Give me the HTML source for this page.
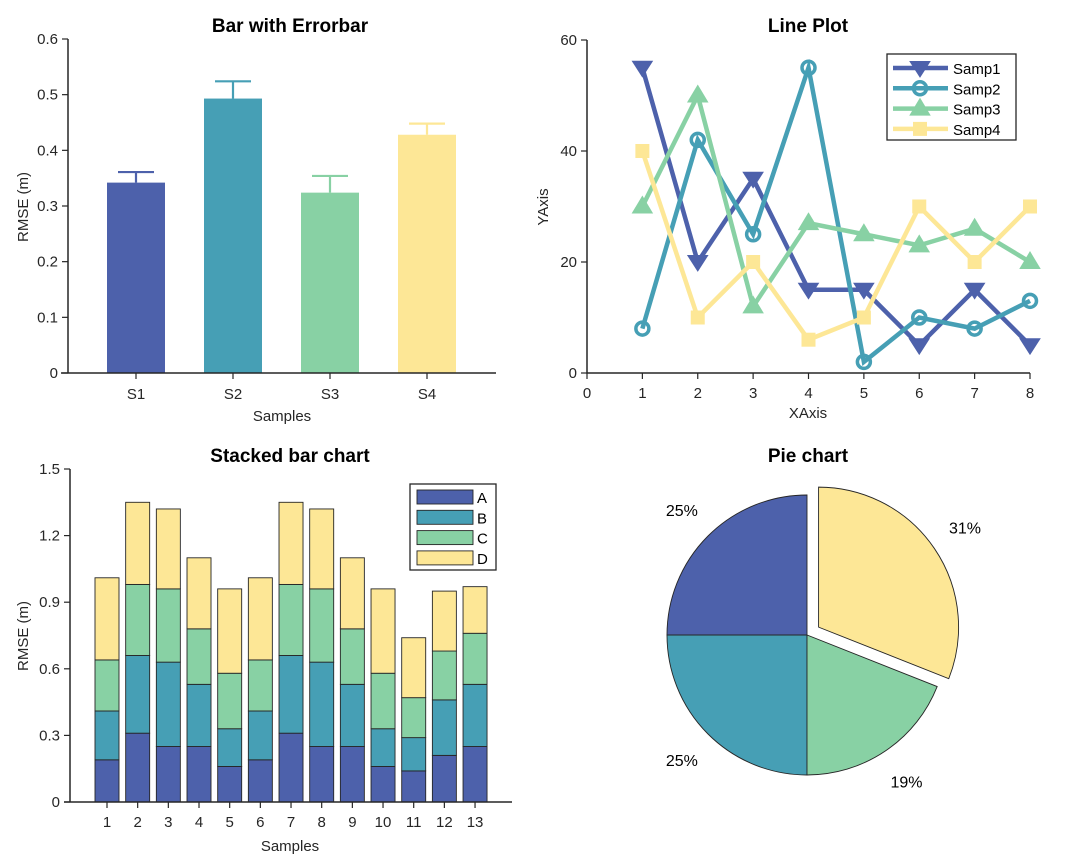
<!DOCTYPE html>
<html><head><meta charset="utf-8"><style>
html,body{margin:0;padding:0;background:#fff;}
svg{display:block;font-family:"Liberation Sans",Arial,sans-serif;}
</style></head><body>
<svg id="c" width="1080" height="864" viewBox="0 0 1080 864"></svg>
<script>
// ---- data ----
const barCats=["S1","S2","S3","S4"];
const barVals=[0.342,0.493,0.324,0.428];
const barErr=[0.019,0.031,0.030,0.020];
const barYTicks=[0,0.1,0.2,0.3,0.4,0.5,0.6];

const lineX=[1,2,3,4,5,6,7,8];
const samp1=[55,20,35,15,15,5,15,5];
const samp2=[8,42,25,55,2,10,8,13];
const samp3=[30,50,12,27,25,23,26,20];
const samp4=[40,10,20,6,10,30,20,30];
const lineXTicks=[0,1,2,3,4,5,6,7,8];
const lineYTicks=[0,20,40,60];

const stackCats=[1,2,3,4,5,6,7,8,9,10,11,12,13];
const stackA=[0.19,0.31,0.25,0.25,0.16,0.19,0.31,0.25,0.25,0.16,0.14,0.21,0.25];
const stackB=[0.22,0.35,0.38,0.28,0.17,0.22,0.35,0.38,0.28,0.17,0.15,0.25,0.28];
const stackC=[0.23,0.32,0.33,0.25,0.25,0.23,0.32,0.33,0.25,0.25,0.18,0.22,0.23];
const stackD=[0.37,0.37,0.36,0.32,0.38,0.37,0.37,0.36,0.32,0.38,0.27,0.27,0.21];
const stackYTicks=[0,0.3,0.6,0.9,1.2,1.5];

const pieVals=[25,25,19,31];
const pieLabels=["25%","25%","19%","31%"];
const pieExplode=[0,0,0,1];

const COLORS=["#4d61ab","#469fb5","#88d1a4","#fde796"];
const NS="http://www.w3.org/2000/svg";
const svg=document.getElementById('c');
function el(tag,attrs,parent,text){const e=document.createElementNS(NS,tag);for(const k in attrs)e.setAttribute(k,attrs[k]);if(text!==undefined)e.textContent=text;(parent||svg).appendChild(e);return e;}
function txt(x,y,s,size,anchor,parent,extra){const t=el('text',Object.assign({x:x,y:y,'font-size':size,'text-anchor':anchor||'middle',fill:'#262626'},extra||{}),parent,s);return t;}

// ---------- Bar with errorbar ----------
(function(){
 const g=el('g',{});
 
 
 const x0=68,y0=373,yTop=39,xEnd=496;
 const ys=v=>y0-(v/0.6)*(y0-yTop);
 const xs=i=>136+i*97;
 const t=txt(290,32,"Bar with Errorbar",19,'middle',g,{'font-weight':'bold',fill:'#000'});
 
 barCats.forEach((c,i)=>{
  const r=el('rect',{x:xs(i)-29,y:ys(barVals[i]),width:58,height:y0-ys(barVals[i]),fill:COLORS[i]},g);
  
  
  const e=el('path',{d:`M${xs(i)},${ys(barVals[i])}V${ys(barVals[i]+barErr[i])}M${xs(i)-18},${ys(barVals[i]+barErr[i])}H${xs(i)+18}`,stroke:COLORS[i],'stroke-width':2.2,fill:'none'},g);
  
  
  el('line',{x1:xs(i),x2:xs(i),y1:y0,y2:y0+6,stroke:'#262626','stroke-width':1.2},g);
  txt(xs(i),y0+26,c,15,'middle',g);
 });
 el('path',{d:`M${x0},${yTop}V${y0}M${x0-7},${y0}H${xEnd}`,stroke:'#262626','stroke-width':1.5,fill:'none'},g);
 barYTicks.forEach(v=>{el('line',{x1:x0-6,x2:x0,y1:ys(v),y2:ys(v),stroke:'#262626','stroke-width':1.2},g);txt(x0-10,ys(v)+5,String(v),15,'end',g);});
 const yl=txt(28,207,"RMSE (m)",15,'middle',g,{transform:'rotate(-90 28 207)'});
 
 const xl=txt(282,421,"Samples",15,'middle',g);
 
})();

// ---------- Line plot ----------
(function(){
 const g=el('g',{});
 
 
 const x0=587,x1=1030,y0=373,yTop=40;
 const xs=v=>x0+v/8*(x1-x0), ys=v=>y0-v/60*(y0-yTop);
 const t=txt(808,32,"Line Plot",19,'middle',g,{'font-weight':'bold',fill:'#000'});
 
 el('path',{d:`M${x0},${yTop}V${y0}H${x1}`,stroke:'#262626','stroke-width':1.5,fill:'none'},g);
 lineXTicks.forEach(v=>{el('line',{x1:xs(v),x2:xs(v),y1:y0,y2:y0+6,stroke:'#262626','stroke-width':1.2},g);txt(xs(v),y0+25,String(v),15,'middle',g);});
 lineYTicks.forEach(v=>{el('line',{x1:x0-6,x2:x0,y1:ys(v),y2:ys(v),stroke:'#262626','stroke-width':1.2},g);txt(x0-10,ys(v)+5,String(v),15,'end',g);});
 const yl=txt(548,207,"YAxis",15,'middle',g,{transform:'rotate(-90 548 207)'});
 
 const xl=txt(808,418,"XAxis",15,'middle',g);
 
 function marker(kind,x,y,col,p){
  if(kind==='tri-down') return el('path',{d:`M${x-9},${y-6}H${x+9}L${x},${y+8}Z`,fill:col,stroke:col,'stroke-width':2},p);
  if(kind==='circle') return el('circle',{cx:x,cy:y,r:6.5,fill:'none',stroke:col,'stroke-width':3.5},p);
  if(kind==='tri-up') return el('path',{d:`M${x-9},${y+6}H${x+9}L${x},${y-9}Z`,fill:col,stroke:col,'stroke-width':2},p);
  return el('rect',{x:x-7,y:y-7,width:14,height:14,fill:col},p);
 }
 const series=[samp1,samp2,samp3,samp4],kinds=['tri-down','circle','tri-up','square'],names=['samp1','samp2','samp3','samp4'];
 series.forEach((s,k)=>{
  const col=COLORS[k];
  const p=el('polyline',{points:s.map((v,i)=>xs(lineX[i])+','+ys(v)).join(' '),fill:'none',stroke:col,'stroke-width':4.5,'stroke-linejoin':'miter'},g);
  
  
  s.forEach((v,i)=>{const m=marker(kinds[k],xs(lineX[i]),ys(v),col,g);
   
   });
 });
 const lg=el('g',{},g);
 
 
 el('rect',{x:887,y:54,width:129,height:86,fill:'#fff',stroke:'#262626','stroke-width':1.3},lg);
 ["Samp1","Samp2","Samp3","Samp4"].forEach((n,k)=>{
  const y=68+k*20.3;
  el('line',{x1:893,x2:948,y1:y,y2:y,stroke:COLORS[k],'stroke-width':4.5},lg);
  marker(kinds[k],920,y,COLORS[k],lg);
  const t=txt(953,y+6,n,15,'start',lg,{fill:'#000'});
  
 });
})();

// ---------- Stacked bar ----------
(function(){
 const g=el('g',{});
 
 
 const x0=70,y0=802,yTop=469,xEnd=512;
 const ys=v=>y0-v/1.5*(y0-yTop), xs=c=>107+(c-1)*30.67;
 const t=txt(290,462,"Stacked bar chart",19,'middle',g,{'font-weight':'bold',fill:'#000'});
 
 const layers=[stackA,stackB,stackC,stackD],ln=['a','b','c','d'];
 stackCats.forEach((c,i)=>{
  let base=0;
  layers.forEach((L,k)=>{
   const top=base+L[i];
   const r=el('rect',{x:xs(c)-12,y:ys(top),width:24,height:ys(base)-ys(top),fill:COLORS[k],stroke:'#262626','stroke-width':0.9},g);
   
   
   base=top;
  });
  el('line',{x1:xs(c),x2:xs(c),y1:y0,y2:y0+6,stroke:'#262626','stroke-width':1.2},g);
  txt(xs(c),y0+25,String(c),15,'middle',g);
 });
 el('path',{d:`M${x0},${yTop}V${y0}M${x0-6},${y0}H${xEnd}`,stroke:'#262626','stroke-width':1.5,fill:'none'},g);
 stackYTicks.forEach(v=>{el('line',{x1:x0-6,x2:x0,y1:ys(v),y2:ys(v),stroke:'#262626','stroke-width':1.2},g);txt(x0-10,ys(v)+5,v===0?"0":v.toFixed(1),15,'end',g);});
 const yl=txt(28,636,"RMSE (m)",15,'middle',g,{transform:'rotate(-90 28 636)'});
 
 const xl=txt(290,851,"Samples",15,'middle',g);
 
 const lg=el('g',{},g);
 
 
 el('rect',{x:410,y:484,width:86,height:86,fill:'#fff',stroke:'#262626','stroke-width':1.3},lg);
 ["A","B","C","D"].forEach((n,k)=>{
  const y=490+k*20.3;
  el('rect',{x:417,y:y,width:56,height:14,fill:COLORS[k],stroke:'#262626','stroke-width':0.9},lg);
  const t=txt(477,y+13,n,15,'start',lg,{fill:'#000'});
  
 });
})();

// ---------- Pie ----------
(function(){
 const g=el('g',{});
 
 
 const cx=807,cy=635,R=140;
 const t=txt(808,462,"Pie chart",19,'middle',g,{'font-weight':'bold',fill:'#000'});
 
 const total=pieVals.reduce((a,b)=>a+b,0);
 let a=90;
 pieVals.forEach((v,i)=>{
  const sweep=v/total*360, a2=a+sweep, mid=(a+a2)/2*Math.PI/180;
  const off=pieExplode[i]?14:0;
  const ox=cx+off*Math.cos(mid), oy=cy-off*Math.sin(mid);
  const p1=[ox+R*Math.cos(a*Math.PI/180),oy-R*Math.sin(a*Math.PI/180)];
  const p2=[ox+R*Math.cos(a2*Math.PI/180),oy-R*Math.sin(a2*Math.PI/180)];
  const s=el('path',{d:`M${ox},${oy}L${p1[0]},${p1[1]}A${R},${R} 0 ${sweep>180?1:0} 0 ${p2[0]},${p2[1]}Z`,fill:COLORS[i],stroke:'#262626','stroke-width':0.9},g);
  
  
  const lr=R+37;
  const l=txt(ox+lr*Math.cos(mid),oy-lr*Math.sin(mid)+6,pieLabels[i],16,'middle',g,{fill:'#000'});
  
  
  a=a2;
 });
})();
</script>
</body></html>
